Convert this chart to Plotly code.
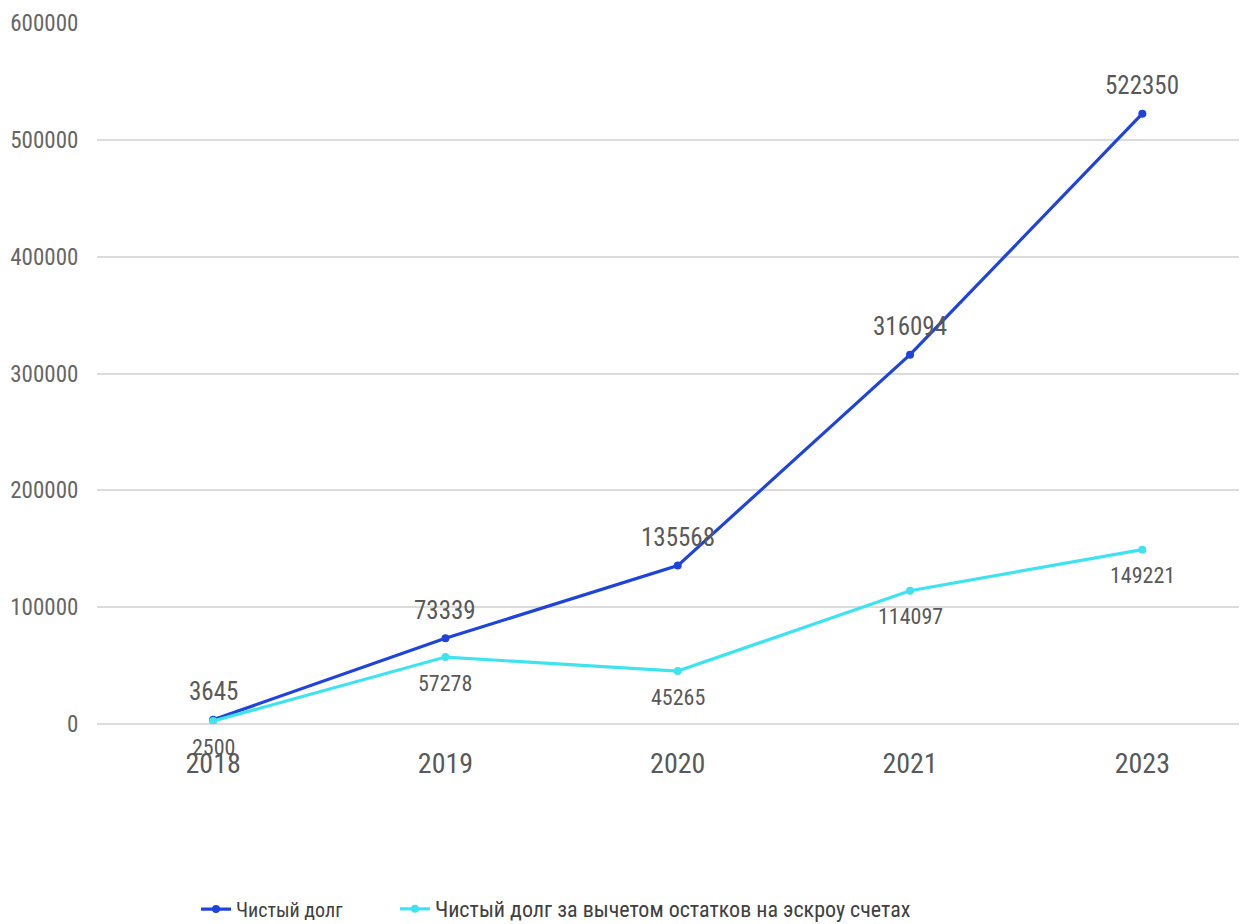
import plotly.graph_objects as go

years = ["2018", "2019", "2020", "2021", "2023"]
net_debt = [3645, 73339, 135568, 316094, 522350]
net_debt_escrow = [2500, 57278, 45265, 114097, 149221]
y_ticks = [0, 100000, 200000, 300000, 400000, 500000, 600000]
series_names = ["Чистый долг", "Чистый долг за вычетом остатков на эскроу счетах"]

FONT = "Liberation Sans Narrow, Roboto Condensed, Arial Narrow, Roboto, sans-serif"
BLUE = "#1f44dc"
CYAN = "#3fe3f0"
TXT = "#595959"

fig = go.Figure()
fig.add_trace(go.Scatter(x=years, y=net_debt, name=series_names[0], mode="lines+markers",
                         line=dict(color=BLUE, width=3.2), marker=dict(size=8, color=BLUE),
                         legend="legend"))
fig.add_trace(go.Scatter(x=years, y=net_debt_escrow, name=series_names[1], mode="lines+markers",
                         line=dict(color=CYAN, width=3.2), marker=dict(size=8, color=CYAN),
                         legend="legend2"))

for i, v in enumerate(net_debt):
    fig.add_annotation(x=i, y=v, xref="x", yref="y", text=str(v), showarrow=False, yshift=28,
                       font=dict(family=FONT, size=25, color=TXT))
for i, v in enumerate(net_debt_escrow):
    fig.add_annotation(x=i, y=v, xref="x", yref="y", text=str(v), showarrow=False, yshift=-26,
                       font=dict(family=FONT, size=22, color=TXT))

legend_common = dict(orientation="h", y=-0.264, xanchor="left", yanchor="middle",
                     itemwidth=30, bgcolor="rgba(0,0,0,0)")

fig.update_layout(
    width=1247, height=924,
    margin=dict(l=89, r=0, t=15, b=208),
    paper_bgcolor="white", plot_bgcolor="white",
    font=dict(family=FONT, color=TXT),
    showlegend=True,
    legend=dict(x=0.0855, font=dict(family=FONT, size=20, color="#404040"), **legend_common),
    legend2=dict(x=0.2573, font=dict(family=FONT, size=22, color="#404040"), **legend_common),
    xaxis=dict(type="category", range=[-0.5, 4.485], showgrid=False, showline=False,
               zeroline=False, ticks="outside", ticklen=14, tickcolor="rgba(0,0,0,0)",
               tickfont=dict(family=FONT, size=28, color=TXT)),
    yaxis=dict(range=[0, 600000], tickvals=y_ticks, ticktext=[str(t) for t in y_ticks],
               showgrid=True, gridcolor="#dcdcdc", gridwidth=2, zeroline=True,
               zerolinecolor="#dcdcdc", zerolinewidth=2, showline=False,
               ticks="outside", ticklen=13, tickcolor="rgba(0,0,0,0)",
               tickfont=dict(family=FONT, size=23, color="#666666")),
)

fig.write_html("out.html")
